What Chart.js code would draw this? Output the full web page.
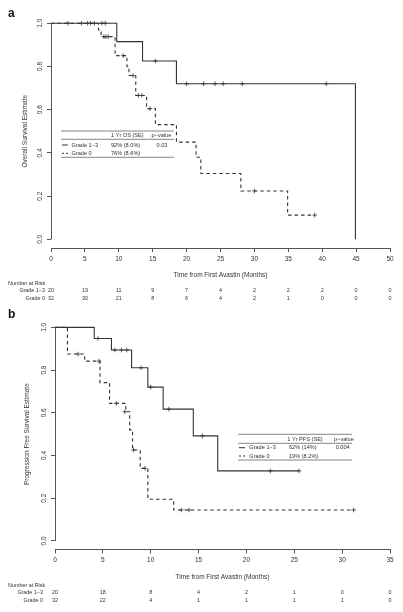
<!DOCTYPE html>
<html>
<head>
<meta charset="utf-8">
<script src="https://cdn.jsdelivr.net/npm/chart.js@4.4.1/dist/chart.umd.min.js"></script>
<style>
  body { margin: 0; background: #fff; }
  canvas { display: block; }
</style>
</head>
<body>
<canvas id="chartA" width="403" height="305"></canvas>
<canvas id="chartB" width="403" height="307"></canvas>
<script>
// Panel a - overall survival (months, survival estimate)
const osHighTimes = [0, 9.7, 13.5, 18.5, 44.9];
const osHighSurv = [1, 0.915, 0.825, 0.72, 0];
const osHighCensorTimes = [2.5, 4.5, 5.4, 5.85, 6.4, 7.5, 8.0, 15.4, 20.0, 22.5, 24.2, 25.4, 28.2, 40.6];
const osHighCensorSurv = [1, 1, 1, 1, 1, 1, 1, 0.825, 0.72, 0.72, 0.72, 0.72, 0.72, 0.72];

const osLowTimes = [0, 7.0, 7.4, 9.45, 11.2, 11.5, 12.5, 14.1, 15.4, 18.5, 21.4, 22.1, 28.0, 34.9, 38.9];
const osLowSurv = [1, 0.969, 0.938, 0.85, 0.80, 0.758, 0.666, 0.605, 0.531, 0.45, 0.38, 0.305, 0.224, 0.112, 0.112];
const osLowCensorTimes = [7.8, 8.1, 8.45, 10.65, 12.1, 12.9, 13.4, 14.6, 30.0, 38.9];
const osLowCensorSurv = [0.938, 0.938, 0.938, 0.85, 0.758, 0.666, 0.666, 0.605, 0.224, 0.112];

const osRiskTimes = [0, 5, 10, 15, 20, 25, 30, 35, 40, 45, 50];
const osRiskHigh = [20, 19, 11, 9, 7, 4, 2, 2, 2, 0, 0];
const osRiskLow = [32, 30, 21, 8, 6, 4, 2, 1, 0, 0, 0];

// Panel b - progression free survival
const pfsHighTimes = [0, 4.1, 5.9, 8.0, 9.7, 11.3, 14.45, 17.0, 25.5];
const pfsHighSurv = [1, 0.948, 0.894, 0.811, 0.72, 0.617, 0.492, 0.328, 0.328];
const pfsHighCensorTimes = [4.5, 6.25, 6.95, 7.5, 9.0, 10.0, 11.9, 15.4, 22.5, 25.5];
const pfsHighCensorSurv = [0.948, 0.894, 0.894, 0.894, 0.811, 0.72, 0.617, 0.492, 0.328, 0.328];

const pfsLowTimes = [0, 1.3, 3.1, 4.7, 5.7, 7.4, 7.8, 8.1, 8.9, 9.7, 12.4, 31.2];
const pfsLowSurv = [1, 0.875, 0.842, 0.741, 0.644, 0.605, 0.52, 0.426, 0.34, 0.195, 0.145, 0.145];
const pfsLowCensorTimes = [2.4, 4.6, 6.4, 7.3, 8.2, 9.4, 13.2, 14.0, 31.2];
const pfsLowCensorSurv = [0.875, 0.842, 0.644, 0.605, 0.426, 0.34, 0.145, 0.145, 0.145];

const pfsRiskTimes = [0, 5, 10, 15, 20, 25, 30, 35];
const pfsRiskHigh = [20, 18, 8, 4, 2, 1, 0, 0];
const pfsRiskLow = [32, 22, 4, 1, 1, 1, 1, 0];

const yTickValues = [0, 0.2, 0.4, 0.6, 0.8, 1.0];

const FONT = '"Liberation Sans", Arial, sans-serif';
const INK = '#333';
const AXIS = '#555';

function pts(xs, ys) {
    return xs.map((x, i) => ({ x: x, y: ys[i] }));
}

function stepSet(xs, ys, dashed) {
    return {
        data: pts(xs, ys),
        stepped: true,
        borderColor: INK,
        borderWidth: 1.1,
        borderDash: dashed ? [3.5, 3] : [],
        pointRadius: 0,
        fill: false
    };
}

function censorSet(xs, ys) {
    return {
        data: pts(xs, ys),
        showLine: false,
        pointStyle: 'cross',
        pointRadius: 2.3,
        borderColor: INK,
        borderWidth: 0.8
    };
}

// draws the R-style y axis, rotated labels, legend table and risk table
function panelPlugin(cfg) {
    return {
        id: 'panel' + cfg.letter,
        afterDraw(chart) {
            const ctx = chart.ctx;
            const xs = chart.scales.x;
            const ys = chart.scales.y;
            const axisX = chart.chartArea.left;
            ctx.save();

            // panel letter
            ctx.fillStyle = '#111';
            ctx.font = 'bold 12px ' + FONT;
            ctx.textBaseline = 'alphabetic';
            ctx.textAlign = 'left';
            ctx.fillText(cfg.letter, 8, cfg.letterY);

            // y axis line from 0 to 1
            ctx.strokeStyle = AXIS;
            ctx.lineWidth = 1;
            ctx.beginPath();
            ctx.moveTo(axisX + 0.5, ys.getPixelForValue(0));
            ctx.lineTo(axisX + 0.5, ys.getPixelForValue(1));
            ctx.stroke();

            // rotated y tick labels
            ctx.fillStyle = INK;
            ctx.font = '6.5px ' + FONT;
            ctx.textAlign = 'center';
            ctx.textBaseline = 'middle';
            yTickValues.forEach(v => {
                ctx.save();
                ctx.translate(axisX - 11, ys.getPixelForValue(v));
                ctx.rotate(-Math.PI / 2);
                ctx.fillText(v.toFixed(1), 0, 0);
                ctx.restore();
            });

            // legend table
            const lg = cfg.legend;
            ctx.strokeStyle = '#666';
            ctx.lineWidth = 0.8;
            lg.rules.forEach(r => {
                ctx.beginPath();
                ctx.moveTo(lg.x0, r);
                ctx.lineTo(lg.x1, r);
                ctx.stroke();
            });
            ctx.font = '5.6px ' + FONT;
            ctx.textAlign = 'left';
            ctx.fillStyle = INK;
            lg.cells.forEach(c => ctx.fillText(c[0], c[1], c[2]));
            ctx.strokeStyle = INK;
            ctx.lineWidth = 1;
            ctx.beginPath();
            ctx.moveTo(lg.symX, lg.rowY[0]);
            ctx.lineTo(lg.symX + 6, lg.rowY[0]);
            ctx.stroke();
            ctx.setLineDash([2, 2]);
            ctx.beginPath();
            ctx.moveTo(lg.symX, lg.rowY[1]);
            ctx.lineTo(lg.symX + 7, lg.rowY[1]);
            ctx.stroke();
            ctx.setLineDash([]);

            // number at risk
            ctx.font = '5.4px ' + FONT;
            ctx.textAlign = 'left';
            ctx.fillText('Number at Risk', 8, cfg.riskY[0]);
            ctx.textAlign = 'right';
            ctx.fillText('Grade 1\u22123', cfg.riskLabelX, cfg.riskY[1]);
            ctx.fillText('Grade 0', cfg.riskLabelX, cfg.riskY[2]);
            ctx.textAlign = 'center';
            cfg.riskTimes.forEach((t, i) => {
                const px = xs.getPixelForValue(t);
                ctx.fillText(String(cfg.riskHigh[i]), px, cfg.riskY[1]);
                ctx.fillText(String(cfg.riskLow[i]), px, cfg.riskY[2]);
            });
            ctx.restore();
        }
    };
}

function makeChart(id, opt) {
    new Chart(document.getElementById(id), {
        type: 'line',
        data: {
            datasets: [
                stepSet(opt.highT, opt.highS, false),
                stepSet(opt.lowT, opt.lowS, true),
                censorSet(opt.highCT, opt.highCS),
                censorSet(opt.lowCT, opt.lowCS)
            ]
        },
        options: {
            responsive: false,
            animation: false,
            events: [],
            layout: { padding: { left: 0, right: 13, top: opt.top, bottom: 0 } },
            plugins: { legend: { display: false }, tooltip: { enabled: false } },
            scales: {
                x: {
                    type: 'linear',
                    min: 0,
                    max: opt.xMax,
                    border: { display: true, color: AXIS, width: 1 },
                    grid: { drawOnChartArea: false, drawTicks: true, tickLength: 4, color: AXIS },
                    ticks: {
                        stepSize: 5,
                        autoSkip: false,
                        maxRotation: 0,
                        padding: 3,
                        color: INK,
                        font: { family: FONT, size: 6.5 }
                    },
                    title: {
                        display: true,
                        text: 'Time from First Avastin (Months)',
                        color: INK,
                        font: { family: FONT, size: 6.5 },
                        padding: { top: 0, bottom: opt.xTitlePad }
                    },
                    afterFit(scale) { scale.height = opt.xHeight; }
                },
                y: {
                    type: 'linear',
                    min: -0.04,
                    max: 1.04,
                    border: { display: false },
                    grid: { drawOnChartArea: false, drawTicks: true, tickLength: 4, color: AXIS },
                    ticks: { display: false },
                    afterBuildTicks(scale) {
                        scale.ticks = yTickValues.map(v => ({ value: v }));
                    },
                    title: {
                        display: true,
                        text: opt.yTitle,
                        color: INK,
                        font: { family: FONT, size: 6.5 },
                        padding: { top: opt.yTitlePad, bottom: 0 }
                    },
                    afterFit(scale) { scale.width = opt.yWidth; }
                }
            }
        },
        plugins: [panelPlugin(opt.panel)]
    });
}

makeChart('chartA', {
    highT: osHighTimes, highS: osHighSurv,
    lowT: osLowTimes, lowS: osLowSurv,
    highCT: osHighCensorTimes, highCS: osHighCensorSurv,
    lowCT: osLowCensorTimes, lowCS: osLowCensorSurv,
    xMax: 50, top: 14.6, xHeight: 57, yWidth: 51,
    xTitlePad: 25.4, yTitlePad: 21.6,
    yTitle: 'Overall Survival Estimate',
    panel: {
        letter: 'a', letterY: 17,
        riskTimes: osRiskTimes, riskHigh: osRiskHigh, riskLow: osRiskLow,
        riskY: [284, 291, 299], riskLabelX: 45,
        legend: {
            x0: 61, x1: 174, rules: [131, 139.3, 157.3],
            symX: 62, rowY: [145, 153.3],
            cells: [
                ['1 Yr OS (SE)', 111, 135.5], ['p\u2212value', 151.5, 135.5],
                ['Grade 1\u22123', 71.5, 145], ['92% (8.0%)', 111, 145], ['0.03', 156.5, 145],
                ['Grade 0', 71.5, 153.3], ['76% (8.6%)', 111, 153.3]
            ]
        }
    }
});

makeChart('chartB', {
    highT: pfsHighTimes, highS: pfsHighSurv,
    lowT: pfsLowTimes, lowS: pfsLowSurv,
    highCT: pfsHighCensorTimes, highCS: pfsHighCensorSurv,
    lowCT: pfsLowCensorTimes, lowCS: pfsLowCensorSurv,
    xMax: 35, top: 13.8, xHeight: 62.5, yWidth: 55,
    xTitlePad: 30.4, yTitlePad: 23,
    yTitle: 'Progression Free Survival Estimate',
    panel: {
        letter: 'b', letterY: 13,
        riskTimes: pfsRiskTimes, riskHigh: pfsRiskHigh, riskLow: pfsRiskLow,
        riskY: [280.7, 287.7, 296], riskLabelX: 43,
        legend: {
            x0: 238, x1: 352, rules: [129.3, 138.3, 155],
            symX: 239, rowY: [142.7, 151],
            cells: [
                ['1 Yr PFS (SE)', 287.3, 134], ['p\u2212value', 334, 134],
                ['Grade 1\u22123', 249.3, 142.7], ['62% (14%)', 289, 142.7], ['0.004', 335.7, 142.7],
                ['Grade 0', 249.3, 151], ['19% (8.2%)', 289, 151]
            ]
        }
    }
});
</script>
</body>
</html>
